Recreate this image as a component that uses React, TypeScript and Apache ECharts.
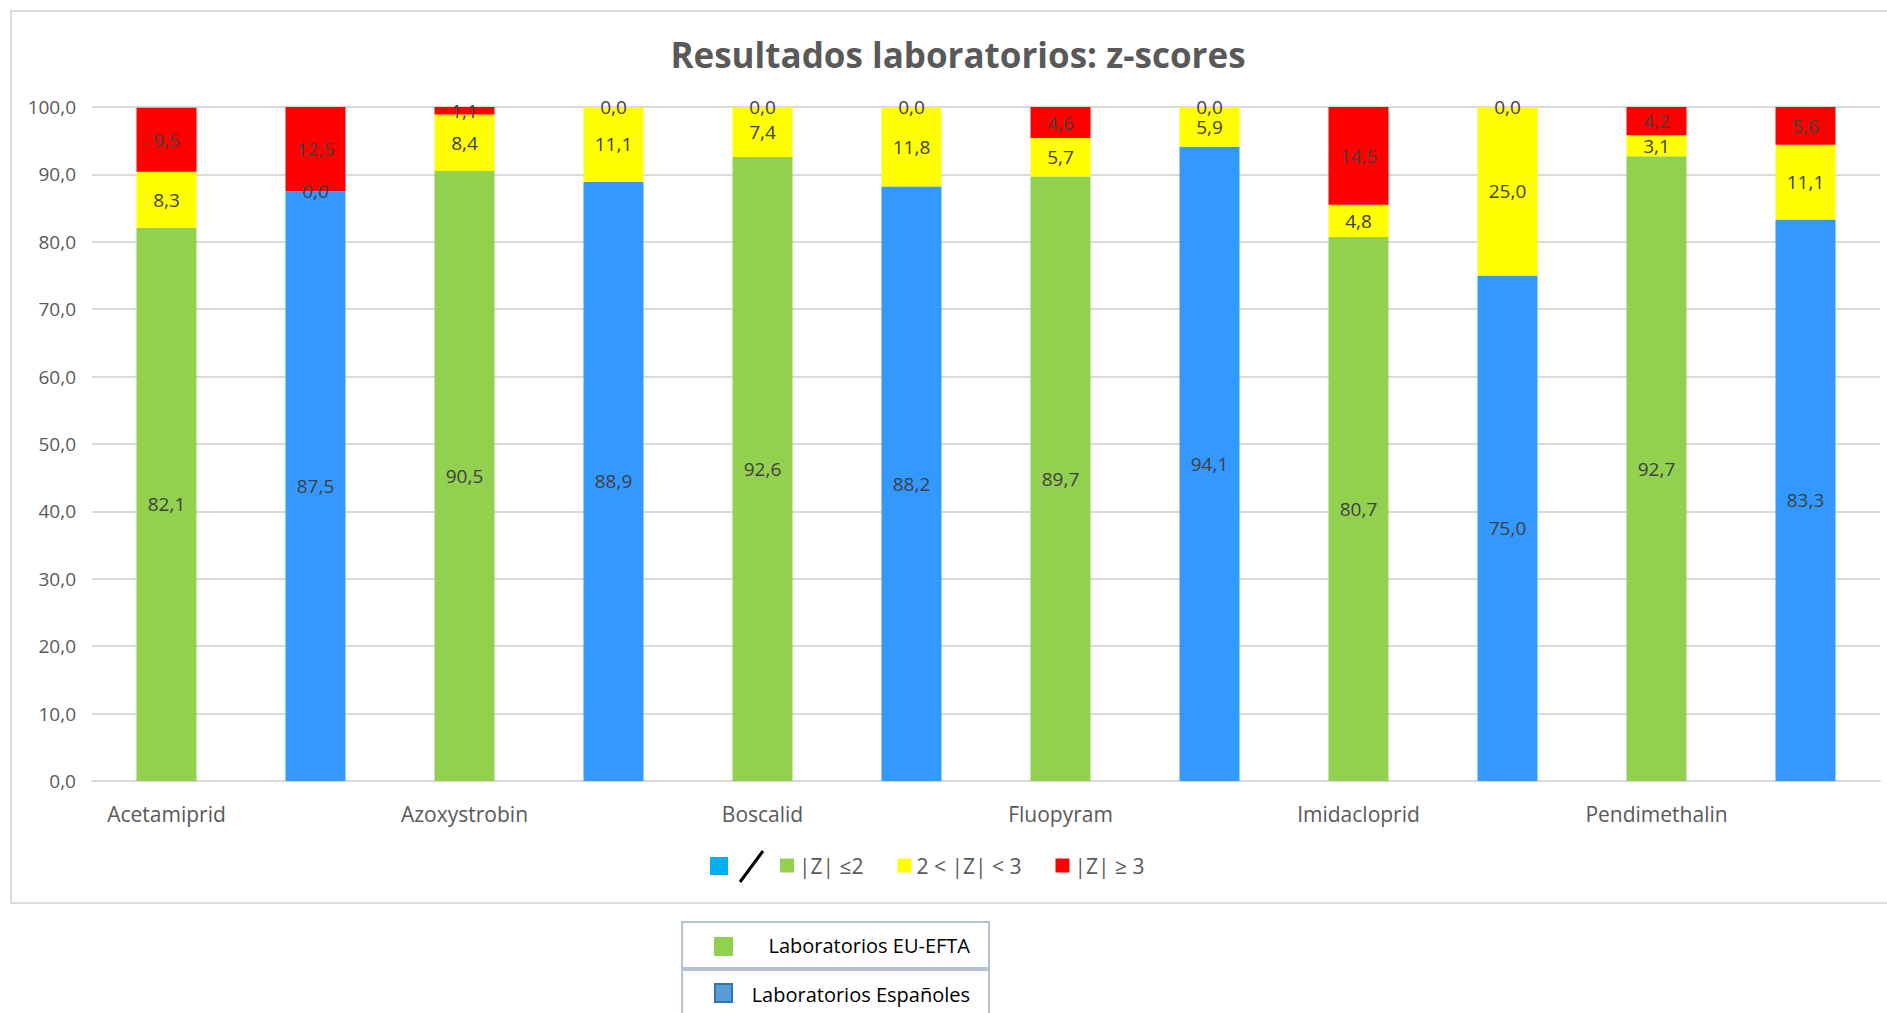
import React, { useEffect, useRef } from "react";
import * as echarts from "echarts";

const compounds = ["Acetamiprid", "Azoxystrobin", "Boscalid", "Fluopyram", "Imidacloprid", "Pendimethalin"];
const labGroups = ["Laboratorios EU-EFTA", "Laboratorios Españoles"];
// order per compound: EU-EFTA, Españoles
const okValues = [82.1, 87.5, 90.5, 88.9, 92.6, 88.2, 89.7, 94.1, 80.7, 75.0, 92.7, 83.3];
const warnValues = [8.3, 0.0, 8.4, 11.1, 7.4, 11.8, 5.7, 5.9, 4.8, 25.0, 3.1, 11.1];
const badValues = [9.5, 12.5, 1.1, 0.0, 0.0, 0.0, 4.6, 0.0, 14.5, 0.0, 4.2, 5.6];
const yTicks = [0, 10, 20, 30, 40, 50, 60, 70, 80, 90, 100];
const legendNames = ["|Z| ≤2", "2 < |Z| < 3", "|Z| ≥ 3"];

const GREEN = "#92D050";
const BLUE = "#3399FF";
const YELLOW = "#FFFF00";
const RED = "#FF0000";
const FONT = "'Open Sans', 'Noto Sans', sans-serif";

const fmt = (v: number) => v.toFixed(1).replace(".", ",");

export default function App() {
  const ref = useRef<HTMLDivElement>(null);
  useEffect(() => {
    document.body.style.margin = "0";
    const chart = echarts.init(ref.current!, null, { renderer: "svg" });
    const categories: string[] = [];
    compounds.forEach((c) => labGroups.forEach((g) => categories.push(c + "|" + g)));
    const label = {
      show: true,
      position: "inside",
      color: "#404040",
      fontSize: 19,
      fontFamily: FONT,
      formatter: (p: any) => fmt(p.value),
    };
    chart.setOption({
      animation: false,
      title: {
        text: "Resultados laboratorios: z-scores",
        left: 958,
        textAlign: "center",
        top: 37,
        padding: 0,
        textStyle: { fontSize: 35, fontWeight: "bold", color: "#595959", fontFamily: FONT },
      },
      grid: { left: 92, right: 7, top: 107, bottom: 232, containLabel: false },
      legend: {
        left: 775,
        top: 850,
        itemWidth: 14,
        itemHeight: 14,
        itemGap: 34,
        icon: "rect",
        data: legendNames,
        textStyle: { fontSize: 21, color: "#595959", fontFamily: FONT },
        selectedMode: false,
      },
      xAxis: {
        type: "category",
        data: categories,
        axisLine: { lineStyle: { color: "#D9D9D9", width: 2 } },
        axisTick: { show: false },
        axisLabel: {
          interval: 0,
          margin: 22,
          fontSize: 21,
          color: "#595959",
          fontFamily: FONT,
          formatter: (v: string) => {
            const [c, g] = v.split("|");
            return g === labGroups[0] ? c : "";
          },
        },
      },
      yAxis: {
        type: "value",
        min: yTicks[0],
        max: yTicks[yTicks.length - 1],
        interval: 10,
        axisLine: { show: false },
        axisTick: { show: false },
        splitLine: { lineStyle: { color: "#D9D9D9", width: 2 } },
        axisLabel: { fontSize: 19, color: "#595959", fontFamily: FONT, margin: 16, formatter: (v: number) => fmt(v) },
      },
      series: [
        {
          name: legendNames[0],
          type: "bar",
          stack: "z",
          barWidth: 60,
          itemStyle: { color: GREEN },
          label,
          data: okValues.map((v, i) => ({ value: v, itemStyle: { color: i % 2 === 0 ? GREEN : BLUE } })),
        },
        {
          name: legendNames[1],
          type: "bar",
          stack: "z",
          barWidth: 60,
          itemStyle: { color: YELLOW },
          label,
          data: warnValues,
        },
        {
          name: legendNames[2],
          type: "bar",
          stack: "z",
          barWidth: 60,
          itemStyle: { color: RED },
          label,
          data: badValues,
        },
      ],
      graphic: [
        { type: "rect", shape: { x: 11, y: 11, width: 1900, height: 892 }, style: { fill: "none", stroke: "#D9D9D9", lineWidth: 2 }, z: -10 },
        { type: "rect", shape: { x: 710, y: 857, width: 18, height: 18 }, style: { fill: "#00B0F0" } },
        { type: "line", shape: { x1: 740, y1: 882, x2: 763, y2: 851 }, style: { stroke: "#000", lineWidth: 3 } },
        { type: "rect", shape: { x: 682, y: 922, width: 307, height: 46 }, style: { fill: "#fff", stroke: "#B4C0D6", lineWidth: 2 } },
        { type: "rect", shape: { x: 714, y: 937, width: 19, height: 19 }, style: { fill: GREEN } },
        { type: "text", x: 970, y: 945, style: { text: labGroups[0], fill: "#000", fontSize: 20, fontFamily: FONT, align: "right", verticalAlign: "middle" } },
        { type: "rect", shape: { x: 682, y: 970, width: 307, height: 60 }, style: { fill: "#fff", stroke: "#B4C0D6", lineWidth: 2 } },
        { type: "rect", shape: { x: 715, y: 984, width: 17, height: 18 }, style: { fill: "#5B9BD5", stroke: "#2E75B6", lineWidth: 2 } },
        { type: "text", x: 970, y: 994, style: { text: labGroups[1], fill: "#000", fontSize: 20, fontFamily: FONT, align: "right", verticalAlign: "middle" } },
      ],
    });
    return () => chart.dispose();
  }, []);
  return <div ref={ref} style={{ width: 1887, height: 1013 }} />;
}
